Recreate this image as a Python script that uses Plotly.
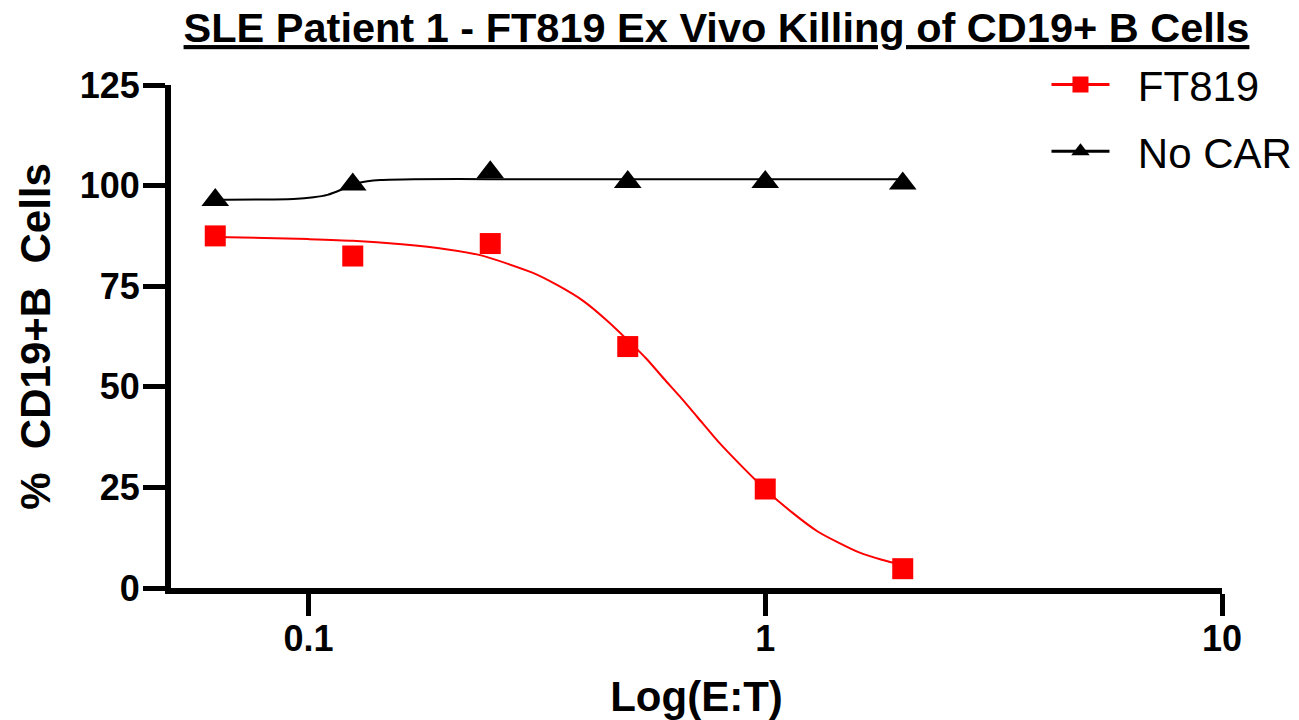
import plotly.graph_objects as go

# Measured points
et_ratio = [0.0625, 0.125, 0.25, 0.5, 1, 2]
ft819_pts = [87.5, 82.5, 85.6, 60.0, 24.6, 4.8]
nocar_pts = [96.4, 100.3, 103.3, 100.9, 100.9, 100.5]

# Fitted curves
ft819_fit_x = [0.0625, 0.08, 0.1, 0.125, 0.16, 0.2, 0.24, 0.31, 0.35, 0.4, 0.45, 0.5, 0.55,
               0.6, 0.65, 0.71, 0.79, 0.9, 1.0, 1.15, 1.3, 1.45, 1.6, 1.8, 2.0]
ft819_fit_y = [87.2, 87.0, 86.7, 86.3, 85.4, 84.2, 82.6, 78.3, 75.3, 71.3, 66.5, 61.6, 56.9,
               52.0, 47.6, 42.5, 36.3, 29.6, 24.5, 18.6, 14.1, 11.2, 8.9, 7.0, 5.7]
nocar_fit_x = [0.0625, 0.0927, 0.1026, 0.110, 0.1175, 0.1254, 0.1346, 0.1437, 0.17, 0.25, 0.5, 1, 2]
nocar_fit_y = [96.5, 96.7, 97.1, 97.7, 98.9, 100.4, 101.1, 101.4, 101.6, 101.6, 101.6, 101.6, 101.6]

x_ticks = [0.1, 1, 10]
x_tick_text = ["0.1", "1", "10"]
y_ticks = [0, 25, 50, 75, 100, 125]

RED = "#FF0000"
BLACK = "#000000"
FONT = "Liberation Sans, Arial, sans-serif"

fig = go.Figure()

fig.add_trace(go.Scatter(x=ft819_fit_x, y=ft819_fit_y, mode="lines",
                         line=dict(color=RED, width=2, shape="spline", smoothing=0.6),
                         showlegend=False, hoverinfo="skip"))
fig.add_trace(go.Scatter(x=nocar_fit_x, y=nocar_fit_y, mode="lines",
                         line=dict(color=BLACK, width=2, shape="spline", smoothing=0.8),
                         showlegend=False, hoverinfo="skip"))
fig.add_trace(go.Scatter(x=et_ratio, y=ft819_pts, mode="markers",
                         marker=dict(symbol="square", size=21, color=RED),
                         showlegend=False))
fig.add_trace(go.Scatter(x=et_ratio, y=nocar_pts, mode="markers",
                         marker=dict(symbol="triangle-up", size=24, color=BLACK),
                         showlegend=False))

# legend entries
fig.add_trace(go.Scatter(x=[None], y=[None], mode="lines+markers",
                         name="\u00a0\u00a0FT819", legendgroup="a",
                         line=dict(color=RED, width=3),
                         marker=dict(symbol="square", size=21, color=RED)))
fig.add_trace(go.Scatter(x=[None], y=[None], mode="lines+markers",
                         name="\u00a0\u00a0No CAR", legendgroup="b",
                         line=dict(color=BLACK, width=3),
                         marker=dict(symbol="triangle-up", size=24, color=BLACK)))

fig.update_layout(
    width=1291, height=712,
    margin=dict(l=163, r=77, t=77, b=132, autoexpand=False),
    paper_bgcolor="white", plot_bgcolor="white",
    font=dict(family=FONT, color="black"),
    title=dict(text="<u>SLE Patient 1 - FT819 Ex Vivo Killing of CD19+ B Cells</u>",
               x=0.5488, xref="container", xanchor="center",
               y=0.993, yref="container", yanchor="top",
               font=dict(family=FONT, size=41.5, weight="bold", color="black")),
    legend=dict(x=0.833, y=1.068, xanchor="left", yanchor="top",
                font=dict(family=FONT, size=42, color="black"),
                bgcolor="rgba(0,0,0,0)", itemwidth=58, tracegroupgap=9),
    xaxis=dict(type="log", range=[-1.30103, 1],
               tickvals=x_ticks, ticktext=x_tick_text,
               showline=True, linewidth=6, linecolor="black",
               ticks="outside", ticklen=22, tickwidth=5, tickcolor="black",
               ticklabelstandoff=-8,
               showgrid=False, zeroline=False,
               tickfont=dict(family=FONT, size=36, weight="bold", color="black"),
               title=dict(text="Log(E:T)", standoff=27,
                          font=dict(family=FONT, size=42, weight="bold", color="black"))),
    yaxis=dict(range=[0, 125], tickvals=y_ticks,
               showline=True, linewidth=6, linecolor="black",
               ticks="outside", ticklen=22, tickwidth=5, tickcolor="black",
               ticklabelstandoff=-4,
               showgrid=False, zeroline=False,
               tickfont=dict(family=FONT, size=36, weight="bold", color="black"),
               title=dict(text="%\u00a0 CD19+B\u00a0 Cells", standoff=18,
                          font=dict(family=FONT, size=42, weight="bold", color="black"))),
)

fig.write_html("out.html")
